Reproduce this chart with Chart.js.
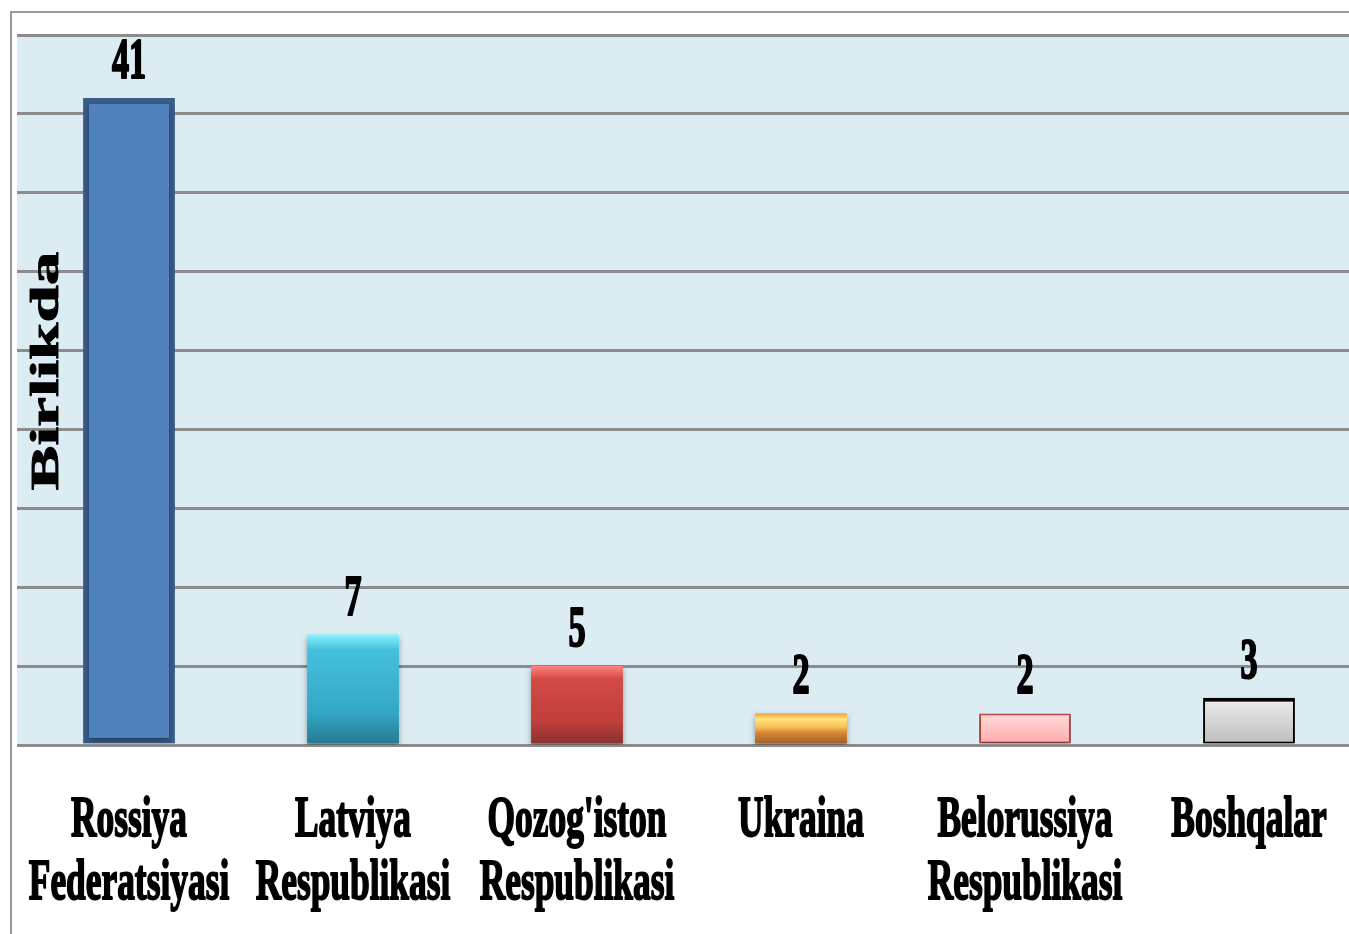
<!DOCTYPE html>
<html>
<head>
<meta charset="utf-8">
<script src="https://cdn.jsdelivr.net/npm/chart.js@4/dist/chart.umd.min.js"></script>
<style>
  html, body { margin: 0; padding: 0; background: #fff; overflow: hidden; }
  #wrap { width: 1361px; height: 934px; }
</style>
</head>
<body>
<div id="wrap"><canvas id="chart" width="1361" height="934"></canvas></div>
<script>
// データ
const categories = [
    ["Rossiya", "Federatsiyasi"],
    ["Latviya", "Respublikasi"],
    ["Qozog'iston", "Respublikasi"],
    ["Ukraina"],
    ["Belorussiya", "Respublikasi"],
    ["Boshqalar"]
];
const values = [41, 7, 5, 2, 2, 3];
const axisTitle = "Birlikda";
const yMax = 45;
const yStep = 5;

// 棒の色 (グラデーションの段階)
const barGradients = [
    [[0, "#4f81bd"], [1, "#4f81bd"]],
    [[0, "#86f2ff"], [0.14, "#45c0dc"], [0.7, "#33a8c6"], [1, "#24788f"]],
    [[0, "#ff8380"], [0.16, "#d44a47"], [0.7, "#c03e3b"], [1, "#87302e"]],
    [[0, "#f0a040"], [0.18, "#ffe27a"], [0.42, "#fbc25c"], [0.6, "#d98a34"], [1, "#985a26"]],
    [[0, "#ffdada"], [1, "#ffaaaa"]],
    [[0, "#eeeeee"], [1, "#bcbcbc"]]
];
const borderColors = ["#385d8a", "rgba(0,0,0,0)", "rgba(0,0,0,0)", "rgba(0,0,0,0)", "#c0504d", "#000000"];
const borderWidths = [6, 0, 0, 0, 2, { top: 4, left: 2, right: 2, bottom: 2 }];

const SQUEEZE = 0.61; // 横方向の圧縮率
const FONT = "'Liberation Serif', 'Times New Roman', serif";

function barFill(ctx) {
    const chart = ctx.chart;
    const i = ctx.dataIndex;
    const stops = barGradients[i];
    if (!chart.chartArea || !chart.scales.y) return stops[stops.length - 1][1];
    const top = chart.scales.y.getPixelForValue(values[i]);
    const bottom = chart.scales.y.getPixelForValue(0);
    const g = chart.ctx.createLinearGradient(0, top, 0, bottom);
    stops.forEach(s => g.addColorStop(s[0], s[1]));
    return g;
}

// 太めの文字を描く
function heavyText(ctx, text, weight) {
    ctx.lineWidth = weight;
    ctx.lineJoin = "round";
    ctx.strokeText(text, 0, 0);
    ctx.fillText(text, 0, 0);
}

const decorPlugin = {
    id: "decor",
    beforeDraw(chart) {
        const { ctx, chartArea } = chart;
        ctx.save();
        ctx.fillStyle = "#dbedf3";
        ctx.fillRect(chartArea.left, chartArea.top, chartArea.right - chartArea.left, chartArea.bottom - chartArea.top);
        // 外枠
        ctx.strokeStyle = "#9a9a9a";
        ctx.lineWidth = 2;
        ctx.beginPath();
        ctx.moveTo(11, chart.height);
        ctx.lineTo(11, 12);
        ctx.lineTo(chart.width, 12);
        ctx.stroke();
        ctx.restore();
    },
    beforeDatasetsDraw(chart) {
        chart.ctx.save();
        chart.ctx.shadowColor = "rgba(0,0,0,0.35)";
        chart.ctx.shadowBlur = 6;
        chart.ctx.shadowOffsetY = 3;
    },
    afterDatasetsDraw(chart) {
        const { ctx } = chart;
        ctx.restore();
        const meta = chart.getDatasetMeta(0);
        const xScale = chart.scales.x;
        const zero = chart.scales.y.getPixelForValue(0);
        ctx.save();
        ctx.fillStyle = "#000";
        ctx.strokeStyle = "#000";
        ctx.textAlign = "center";
        ctx.textBaseline = "alphabetic";
        // 値ラベル
        ctx.font = "bold 56px " + FONT;
        meta.data.forEach((el, i) => {
            ctx.save();
            ctx.translate(el.x, el.y - 20);
            ctx.scale(SQUEEZE, 1);
            heavyText(ctx, String(values[i]), 2.2);
            ctx.restore();
        });
        // カテゴリラベル
        ctx.font = "bold 58px " + FONT;
        categories.forEach((lines, i) => {
            const x = xScale.getPixelForValue(i);
            lines.forEach((line, j) => {
                ctx.save();
                ctx.translate(x, zero + 91 + j * 63);
                ctx.scale(SQUEEZE, 1);
                heavyText(ctx, line, 2);
                ctx.restore();
            });
        });
        // 軸タイトル
        ctx.font = "bold 67px " + FONT;
        ctx.textBaseline = "middle";
        ctx.save();
        ctx.translate(47, 371);
        ctx.scale(SQUEEZE, 1);
        ctx.rotate(-Math.PI / 2);
        heavyText(ctx, axisTitle, 1.5);
        ctx.restore();
        ctx.restore();
    }
};

new Chart(document.getElementById("chart").getContext("2d"), {
    type: "bar",
    data: {
        labels: categories,
        datasets: [{
            data: values,
            backgroundColor: barFill,
            borderColor: borderColors,
            borderWidth: borderWidths,
            borderSkipped: false,
            barPercentage: 0.41,
            categoryPercentage: 1
        }]
    },
    options: {
        responsive: false,
        animation: false,
        devicePixelRatio: 1,
        layout: { padding: { left: 17, right: 0, top: 35, bottom: 189 } },
        plugins: { legend: { display: false }, tooltip: { enabled: false } },
        scales: {
            x: { display: false },
            y: {
                min: 0,
                max: yMax,
                ticks: { display: false, stepSize: yStep },
                border: { display: false },
                grid: { color: "#8c8c8c", lineWidth: 3, drawTicks: false }
            }
        }
    },
    plugins: [decorPlugin]
});
</script>
</body>
</html>
